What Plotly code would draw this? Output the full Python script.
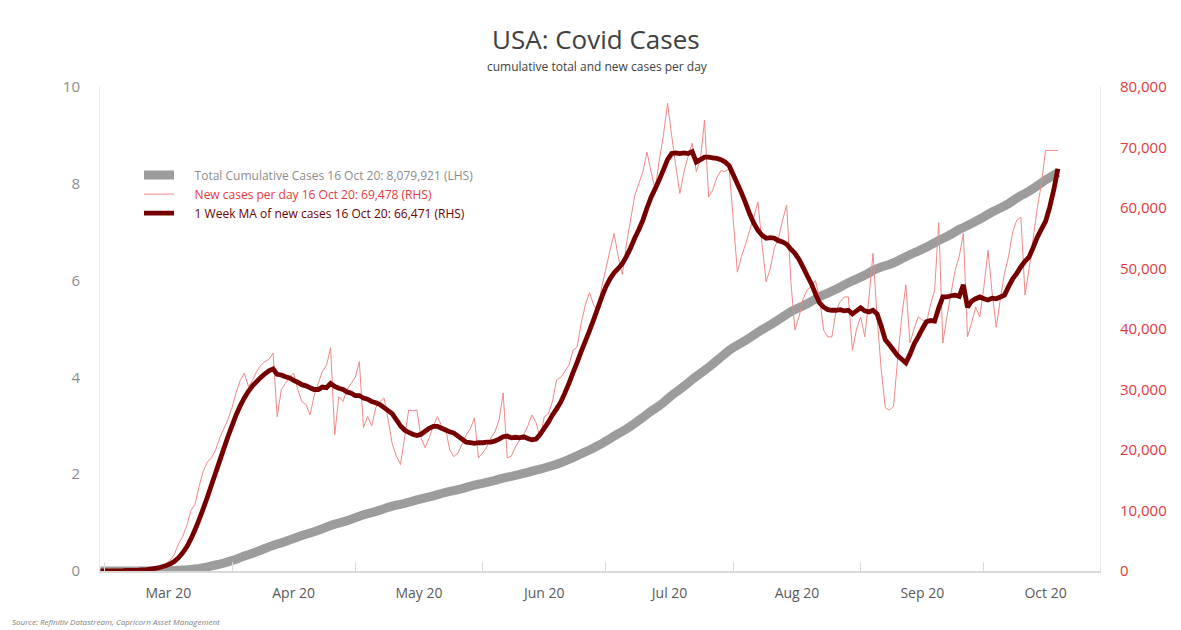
import pandas as pd
import plotly.graph_objects as go

# Daily data starting 29 Feb 2020
start_date = "2020-02-29"

# New cases per day (thousands)
new_cases_k = [
    0, 0, 0, 0, 0, 0.1, 0.1, 0.1, 0.1, 0.2, 0.3, 0.3, 0.4, 0.5, 0.7,
    0.8, 1.2, 1.8, 2.8, 4.5, 5.7, 7.5, 10.0, 11.0, 14.0, 16.5, 18.0, 18.7, 20.0, 22.0, 23.5, 25.0,
    27.0, 29.5, 31.5, 32.7, 30.5, 31.5, 33.0, 34.0, 34.6, 35.0, 36.0, 25.5, 30.0, 31.0, 32.0,
    32.7, 30.0, 28.0, 27.5, 25.8, 29.0, 31.0, 33.0, 34.0, 36.9, 22.5, 28.8, 28.0, 30.0, 31.0,
    32.0, 34.6, 23.7, 25.5, 24.0, 27.0, 28.0, 28.6, 25.0, 21.0, 19.0, 17.6, 22.0, 26.6, 26.5,
    26.6, 22.0, 20.4, 22.0, 24.0, 25.5, 24.0, 23.5, 20.0, 18.9, 19.5, 21.0, 22.5, 23.5, 25.3, 18.7,
    19.5, 20.5, 22.0, 23.0, 25.0, 29.4, 18.7, 19.0, 20.5, 21.7, 22.5, 24.0, 25.8, 24.5, 22.0,
    25.5, 26.0, 28.0, 31.6, 32.0, 33.0, 34.0, 36.5, 37.0, 41.0, 44.0, 46.0, 44.0, 43.0, 47.0,
    50.0, 53.0, 55.8, 52.0, 49.0, 54.0, 58.0, 62.0, 64.0, 66.0, 69.2, 66.0, 63.0, 68.0, 72.0,
    77.3, 72.0, 67.0, 62.4, 66.0, 68.5, 70.7, 66.0, 68.0, 74.5, 61.8, 63.0, 65.0, 66.2, 66.0, 66.5,
    58.0, 49.4, 52.0, 54.0, 56.3, 58.5, 61.0, 54.0, 47.8, 50.0, 53.4, 55.0, 58.0, 60.5, 48.0,
    39.8, 42.0, 45.0, 46.5, 47.0, 48.0, 45.0, 39.8, 38.7, 38.7, 43.0, 44.5, 45.3, 45.3, 36.5, 40.0,
    42.0, 38.7, 45.0, 52.5, 42.0, 33.3, 27.0, 26.6, 27.2, 35.0, 42.0, 47.3, 37.7, 40.0, 42.0,
    41.5, 41.0, 44.0, 46.4, 57.6, 37.7, 42.0, 46.0, 49.7, 52.0, 55.8, 38.7, 41.0, 43.6, 42.0,
    47.0, 53.0, 46.0, 40.3, 45.0, 49.2, 52.0, 56.0, 58.0, 58.5, 45.6, 50.0, 55.0, 60.1, 64.0,
    69.5, 69.5, 69.5, 69.5,
]

# 1 week moving average of new cases (thousands)
ma_k = [
    0, 0, 0, 0, 0, 0, 0.1, 0.1, 0.1, 0.1, 0.2, 0.2, 0.3, 0.4, 0.5,
    0.7, 0.9, 1.2, 1.6, 2.2, 3.0, 4.0, 5.3, 6.8, 8.5, 10.3, 12.2, 14.2, 16.2, 18.2, 20.2, 22.2,
    24.0, 25.8, 27.3, 28.6, 29.7, 30.6, 31.3, 32.0, 32.6, 33.1, 33.4, 32.5, 32.4, 32.1, 31.9,
    31.5, 31.2, 30.8, 30.6, 30.3, 30.0, 30.0, 30.4, 30.3, 31.0, 30.5, 30.2, 30.0, 29.6, 29.4,
    29.0, 29.0, 28.6, 28.4, 28.0, 27.8, 27.5, 27.0, 26.5, 26.0, 25.0, 24.0, 23.3, 22.9, 22.6,
    22.4, 22.6, 23.1, 23.6, 23.9, 23.9, 23.6, 23.3, 23.0, 22.8, 22.3, 21.8, 21.3, 21.2, 21.1, 21.2,
    21.2, 21.3, 21.3, 21.5, 21.8, 22.2, 22.3, 22.0, 22.1, 22.0, 22.2, 21.9, 21.7, 21.8, 22.6,
    23.6, 24.6, 25.8, 26.8, 27.9, 29.4, 31.0, 32.8, 34.5, 36.3, 38.0, 39.7, 41.5, 43.4, 45.3,
    47.0, 48.3, 49.3, 50.0, 50.8, 52.0, 53.4, 55.0, 56.4, 58.0, 60.0, 61.8, 63.2, 64.7, 66.3,
    68.0, 69.0, 69.1, 69.0, 69.1, 69.0, 69.3, 67.6, 68.0, 68.4, 68.4, 68.3, 68.2, 68.0, 67.6, 67.0,
    65.5, 64.0, 62.5, 60.8, 59.0, 57.5, 56.3, 55.5, 55.0, 55.1, 55.0, 54.6, 54.4, 54.0, 53.2,
    52.5, 51.5, 50.2, 48.8, 47.5, 45.8, 44.3, 43.6, 43.2, 43.1, 43.1, 43.2, 43.0, 43.1, 42.5, 43.0,
    43.5, 43.0, 42.8, 43.1, 42.5, 40.5, 38.2, 37.4, 36.5, 35.6, 35.0, 34.4, 35.8, 37.5, 38.7,
    40.0, 41.2, 41.4, 41.3, 43.5, 45.3, 45.3, 45.5, 45.6, 45.4, 47.3, 43.6, 44.6, 45.0, 45.3,
    45.0, 44.8, 45.1, 45.0, 45.3, 45.6, 47.0, 48.3, 49.2, 50.3, 51.2, 51.9, 53.5, 55.2, 56.5,
    57.8, 60.1, 63.0, 66.5,
]

# Total cumulative cases (millions)
cumulative_m = [
    0, 0, 0, 0, 0, 0, 0, 0, 0.001, 0.001, 0.001, 0.001, 0.002, 0.002, 0.003,
    0.004, 0.005, 0.007, 0.010, 0.014, 0.019, 0.025, 0.034, 0.044, 0.055, 0.068, 0.085, 0.104,
    0.124, 0.143, 0.164, 0.189,
    0.215, 0.244, 0.276, 0.310, 0.336, 0.366, 0.397, 0.430, 0.464, 0.499, 0.529, 0.557, 0.582,
    0.609, 0.639, 0.670, 0.703, 0.733, 0.759, 0.786, 0.812, 0.841, 0.872, 0.908, 0.941, 0.968,
    0.990, 1.014, 1.041, 1.071,
    1.102, 1.132, 1.161, 1.186, 1.208, 1.232, 1.258, 1.287, 1.315, 1.340, 1.360, 1.378, 1.398,
    1.420, 1.443, 1.468, 1.490, 1.510, 1.531, 1.553, 1.577, 1.601, 1.623, 1.643, 1.662, 1.682,
    1.704, 1.727, 1.751, 1.773, 1.793,
    1.811, 1.831, 1.852, 1.874, 1.898, 1.920, 1.938, 1.955, 1.974, 1.994, 2.015, 2.038, 2.063,
    2.086, 2.106, 2.128, 2.153, 2.179, 2.207, 2.238, 2.270, 2.305, 2.342, 2.382, 2.422, 2.460,
    2.500, 2.542, 2.586, 2.631,
    2.681, 2.733, 2.788, 2.840, 2.885, 2.933, 2.991, 3.051, 3.113, 3.173, 3.239, 3.303, 3.359,
    3.417, 3.480, 3.555, 3.627, 3.693, 3.755, 3.818, 3.886, 3.956, 4.022, 4.084, 4.144, 4.209,
    4.277, 4.349, 4.419, 4.489, 4.560,
    4.618, 4.666, 4.713, 4.765, 4.819, 4.875, 4.933, 4.985, 5.033, 5.083, 5.136, 5.191, 5.249,
    5.306, 5.360, 5.402, 5.440, 5.480, 5.524, 5.570, 5.617, 5.665, 5.707, 5.743, 5.781, 5.821,
    5.865, 5.911, 5.956, 5.994, 6.030,
    6.072, 6.112, 6.157, 6.207, 6.249, 6.281, 6.307, 6.334, 6.369, 6.407, 6.453, 6.493, 6.535,
    6.575, 6.610, 6.650, 6.691, 6.735, 6.781, 6.831, 6.869, 6.911, 6.957, 7.007, 7.059, 7.097,
    7.137, 7.181, 7.227, 7.270,
    7.315, 7.367, 7.417, 7.459, 7.499, 7.542, 7.592, 7.647, 7.704, 7.756, 7.801, 7.849, 7.902,
    7.960, 8.020, 8.080, 8.130, 8.180, 8.230,
]

left_ticks = [0, 2, 4, 6, 8, 10]
right_ticks = [0, 10000, 20000, 30000, 40000, 50000, 60000, 70000, 80000]

legend_names = [
    "Total Cumulative Cases 16 Oct 20: 8,079,921 (LHS)",
    "New cases per day 16 Oct 20: 69,478 (RHS)",
    "1 Week MA of new cases 16 Oct 20: 66,471 (RHS)",
]

dates = pd.date_range(start_date, periods=len(new_cases_k), freq="D")
new_cases = [v * 1000 for v in new_cases_k]
ma = [v * 1000 for v in ma_k]

GRAY = "#9c9c9c"
LIGHTRED = "#f08888"
DARKRED = "#760000"
FONT = "Open Sans"

PLOT_TOP, PLOT_BOTTOM = 87, 571
PLOT_H = PLOT_BOTTOM - PLOT_TOP


def paper_y(px):
    return (PLOT_BOTTOM - px) / PLOT_H


PAD = "&nbsp;" * 5

fig = go.Figure()
fig.add_trace(go.Scatter(
    x=dates, y=cumulative_m, mode="lines", yaxis="y",
    line=dict(color=GRAY, width=9, simplify=False),
    name=f"{PAD}<span style='color:#8c8c8c'>{legend_names[0]}</span>",
))
fig.add_trace(go.Scatter(
    x=dates, y=new_cases, mode="lines", yaxis="y2",
    line=dict(color=LIGHTRED, width=1, simplify=False),
    name=f"{PAD}<span style='color:#e8383d'>{legend_names[1]}</span>",
))
fig.add_trace(go.Scatter(
    x=dates, y=ma, mode="lines", yaxis="y2",
    line=dict(color=DARKRED, width=4.8, simplify=False),
    name=f"{PAD}<span style='color:#6b0000'>{legend_names[2]}</span>",
))

fig.update_layout(
    width=1181, height=630,
    margin=dict(l=100, r=81, t=PLOT_TOP, b=630 - PLOT_BOTTOM),
    paper_bgcolor="white", plot_bgcolor="white",
    font=dict(family=FONT, color="#595959"),
    showlegend=True,
    legend=dict(
        x=0.039, y=0.848, xanchor="left", yanchor="top",
        bgcolor="rgba(0,0,0,0)", font=dict(size=12, family=FONT),
        itemwidth=30, tracegroupgap=0,
    ),
    xaxis=dict(
        type="date",
        range=["2020-02-28 21:00", "2020-10-29 06:00"],
        dtick="M1", tick0="2020-03-01",
        tickformat="%b %y", ticklabelmode="period",
        ticks="inside", ticklen=9, tickcolor="#d9d9d9",
        showline=True, linecolor="#d9d9d9", linewidth=1.5,
        showgrid=False, zeroline=False,
        tickfont=dict(size=14, color="#595959", family=FONT),
        ticklabelstandoff=8,
    ),
    yaxis=dict(
        range=[0, 10], tickvals=left_ticks,
        showline=True, linecolor="#e6e6e6", linewidth=1,
        showgrid=False, zeroline=False, ticks="",
        tickfont=dict(size=15, color="#8c8c8c", family=FONT),
        ticklabelstandoff=16,
    ),
    yaxis2=dict(
        range=[0, 80000], tickvals=right_ticks, tickformat=",",
        overlaying="y", side="right",
        showline=True, linecolor="#e6e6e6", linewidth=1,
        showgrid=False, zeroline=False, ticks="",
        tickfont=dict(size=15, color="#e03a3e", family=FONT),
        ticklabelstandoff=16,
    ),
)

fig.add_annotation(
    text="USA: Covid Cases", xref="paper", yref="paper",
    x=0.496, y=paper_y(39), xanchor="center", yanchor="middle",
    showarrow=False, font=dict(size=26, color="#404040", family=FONT),
)
fig.add_annotation(
    text="cumulative total and new cases per day", xref="paper", yref="paper",
    x=0.497, y=paper_y(67), xanchor="center", yanchor="middle",
    showarrow=False, font=dict(size=12, color="#404040", family=FONT),
)
fig.add_annotation(
    text="<i>Source: Refinitiv Datastream, Capricorn Asset Management</i>",
    xref="paper", yref="paper",
    x=-0.09, y=paper_y(621), xanchor="left", yanchor="middle",
    showarrow=False, font=dict(size=8, color="#7f7f7f", family=FONT),
)

fig.write_html("out.html")
